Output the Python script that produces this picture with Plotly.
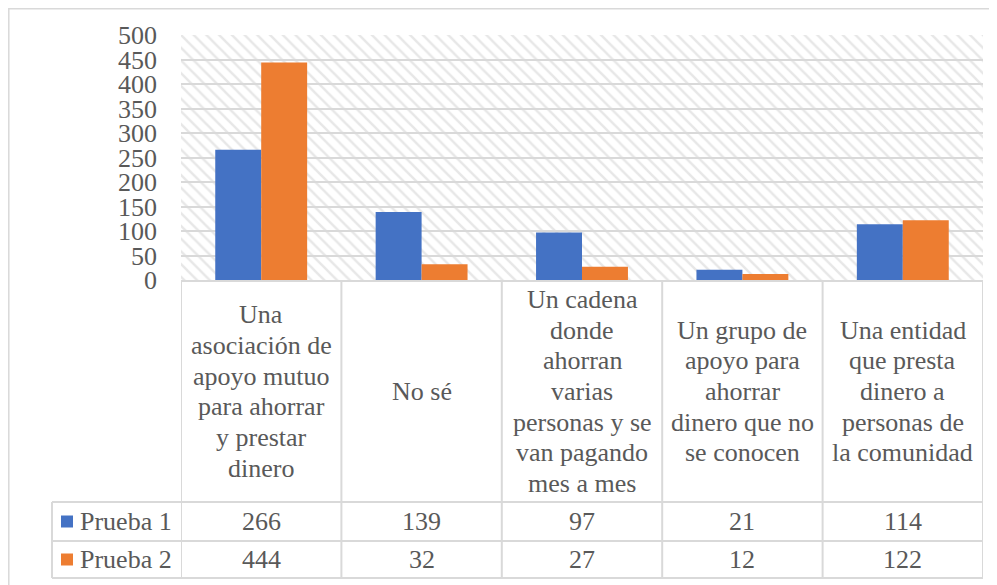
import plotly.graph_objects as go

# chart data
categories = [
    "Una<br>asociación de<br>apoyo mutuo<br>para ahorrar<br>y prestar<br>dinero",
    "No sé",
    "Un cadena<br>donde<br>ahorran<br>varias<br>personas y se<br>van pagando<br>mes a mes",
    "Un grupo de<br>apoyo para<br>ahorrar<br>dinero que no<br>se conocen",
    "Una entidad<br>que presta<br>dinero a<br>personas de<br>la comunidad",
]
series_names = ["Prueba 1", "Prueba 2"]
prueba_1 = [266, 139, 97, 21, 114]
prueba_2 = [444, 32, 27, 12, 122]
y_ticks = [0, 50, 100, 150, 200, 250, 300, 350, 400, 450, 500]

colors = ["#4472C4", "#ED7D31"]
FONT = "Liberation Serif"
FSIZE = 26
TXT = "#595959"
LINE = "#d9d9d9"

# page is shown with an 8px body margin, so the figure is shrunk by that
OFF = 8
W, H = 997 - OFF, 585 - OFF
# plot area in page pixels
L, R, T, B = 181, 983, 35, 280


def px_x(p):
    return (p - L) / (R - L)


def px_y(p):
    return (B - p) / (B - T)


fig = go.Figure()

# hatched background of the plot area (own subplot, drawn below the grid)
fig.add_trace(go.Bar(
    x=[0.5], y=[1], width=[1], xaxis="x", yaxis="y",
    marker=dict(color="white", line_width=0,
                pattern=dict(shape="\\", fgcolor="#d0d0d0", bgcolor="white",
                             size=9, solidity=0.28, fillmode="overlay")),
    hoverinfo="skip", showlegend=False,
))

for name, vals, col in zip(series_names, [prueba_1, prueba_2], colors):
    fig.add_trace(go.Bar(
        x=categories, y=vals, name=name, marker_color=col, marker_line_width=0,
        xaxis="x2", yaxis="y2", showlegend=False,
    ))

shapes = []
annotations = []

def hline(py, x0, x1):
    shapes.append(dict(type="line", xref="paper", yref="paper",
                       x0=px_x(x0), x1=px_x(x1), y0=px_y(py), y1=px_y(py),
                       line=dict(color=LINE, width=2), layer="above"))

def vline(x, y0, y1, xref="paper"):
    shapes.append(dict(type="line", xref=xref, yref="paper",
                       x0=x, x1=x, y0=px_y(y0), y1=px_y(y1),
                       line=dict(color=LINE, width=2), layer="above"))

# data table grid
head_top, head_bot, row1_bot, row2_bot = 281, 502, 541, 578
tab_left = 52
hline(head_top, L, R)
for py in [head_bot, row1_bot, row2_bot]:
    hline(py, tab_left, R)
vline(px_x(tab_left), head_bot, row2_bot)
for i in range(len(categories) + 1):
    vline(i - 0.5, head_top, row2_bot, xref="x2")

# outer chart border (top and left edges visible)
shapes.append(dict(type="rect", xref="paper", yref="paper",
                   x0=px_x(OFF + 0.8), x1=px_x(1010), y0=px_y(600), y1=px_y(OFF + 0.8),
                   line=dict(color=LINE, width=1.5), layer="below"))

# header cells (category names)
head_mid = (head_top + head_bot) / 2
line_gap = 30.7
for i, cat in enumerate(categories):
    lines = cat.split("<br>")
    n = len(lines)
    for k, ln in enumerate(lines):
        py = head_mid + (k - (n - 1) / 2) * line_gap
        annotations.append(dict(x=i, y=px_y(py), xref="x2", yref="paper",
                                text=ln, showarrow=False,
                                font=dict(family=FONT, size=FSIZE, color=TXT),
                                xanchor="center", yanchor="middle"))

# value rows with legend keys
row_mids = [(head_bot + row1_bot) / 2, (row1_bot + row2_bot) / 2]
for name, vals, col, ym in zip(series_names, [prueba_1, prueba_2], colors, row_mids):
    shapes.append(dict(type="rect", xref="paper", yref="paper",
                       x0=px_x(61), x1=px_x(73), y0=px_y(ym + 6), y1=px_y(ym - 6),
                       fillcolor=col, line_width=0, layer="above"))
    annotations.append(dict(x=px_x(78), y=px_y(ym), xref="paper", yref="paper",
                            text=name, showarrow=False, xanchor="left", yanchor="middle",
                            font=dict(family=FONT, size=FSIZE, color=TXT)))
    for i, v in enumerate(vals):
        annotations.append(dict(x=i, y=px_y(ym), xref="x2", yref="paper",
                                text=str(v), showarrow=False,
                                xanchor="center", yanchor="middle",
                                font=dict(family=FONT, size=FSIZE, color=TXT)))

fig.update_layout(
    width=W, height=H,
    margin=dict(l=L - OFF, r=W - (R - OFF), t=T - OFF, b=H - (B - OFF)),
    font=dict(family=FONT, color=TXT, size=FSIZE),
    paper_bgcolor="white", plot_bgcolor="rgba(0,0,0,0)",
    barmode="group", bargap=0.427, bargroupgap=0,
    showlegend=False,
    xaxis=dict(domain=[0, 1], range=[0, 1], visible=False, fixedrange=True),
    yaxis=dict(domain=[0, 1], range=[0, 1], visible=False, fixedrange=True),
    xaxis2=dict(domain=[0, 1], anchor="y2", type="category",
                range=[-0.5, len(categories) - 0.5],
                showticklabels=False, showgrid=False, ticks="", zeroline=False),
    yaxis2=dict(domain=[0, 1], anchor="x2", range=[0, 500],
                tickvals=y_ticks, ticktext=[str(t) for t in y_ticks],
                showgrid=True, gridcolor=LINE, gridwidth=2,
                zeroline=False, showline=False, ticks="",
                ticklabelstandoff=23,
                tickfont=dict(family=FONT, size=FSIZE, color=TXT)),
    shapes=shapes,
    annotations=annotations,
)

fig.write_html("out.html")
